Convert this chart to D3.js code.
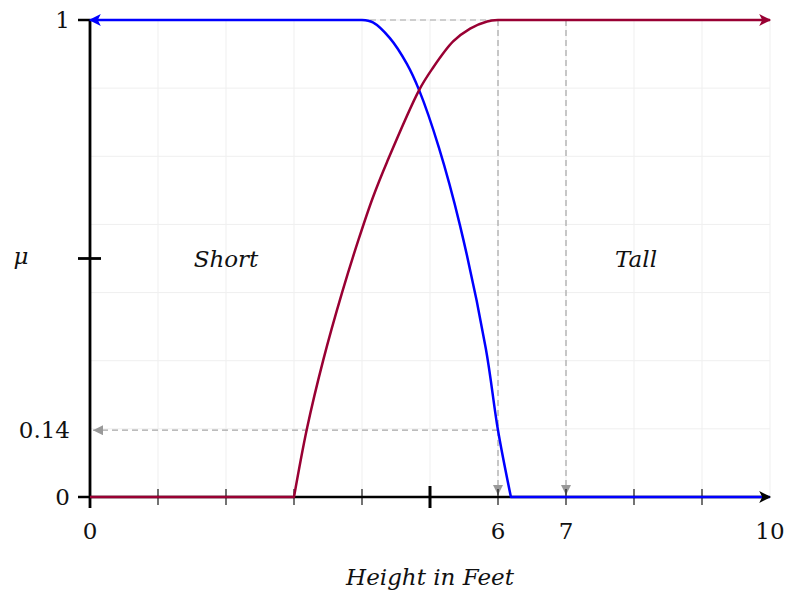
<!DOCTYPE html>
<html><head><meta charset="utf-8">
<script src="https://cdn.jsdelivr.net/npm/d3@7"></script>
<style>html,body{margin:0;padding:0;background:#fff;}svg{display:block;}
text{font-family:"DejaVu Serif",serif;fill:#111;}</style>
</head><body>
<script>
// Data
const shortFlatLeft = [[0,1],[4,1]];
const shortDrop = [[4,1],[4.16,0.995],[4.41,0.962],[4.66,0.908],[4.84,0.853],[5.13,0.733],[5.44,0.57],[5.82,0.312],[6,0.14],[6.19,0]];
const shortFlatRight = [[6.19,0],[10,0]];
const tallFlatLeft = [[0,0],[3,0]];
const tallRise = [[3,0],[3.19,0.143],[3.43,0.287],[3.71,0.43],[3.95,0.54],[4.16,0.628],[4.37,0.703],[4.84,0.853],[5.03,0.897],[5.34,0.955],[5.59,0.982],[5.84,0.997],[6,1]];
const tallFlatRight = [[6,1],[10,1]];
const xTickLabels = [0,6,7,10];
const yTickLabels = [0,0.14,1];
const minorXTicks = [1,2,3,4,6,7,8,9];
const majorXTicks = [5];
const curveLabels = [{text:"Short",x:2,y:0.5},{text:"Tall",x:8.03,y:0.5}];
const markerLevel = 0.14;
const markerXs = [6,7];

const W=787,H=593;
const x=d3.scaleLinear([0,10],[90,770]);
const y=d3.scaleLinear([0,1],[497,20]);
const svg=d3.select("body").append("svg").attr("width",W).attr("height",H);
svg.append("rect").attr("width",W).attr("height",H).attr("fill","#fff");

const defs=svg.append("defs");
function marker(id,color){
  defs.append("marker").attr("id",id).attr("viewBox","0 0 10 10").attr("refX",9).attr("refY",5)
   .attr("markerUnits","userSpaceOnUse").attr("markerWidth",14).attr("markerHeight",12).attr("orient","auto-start-reverse")
   .append("path").attr("d","M0,0 L10,5 L0,10 L2.5,5 Z").attr("fill",color);
}
marker("arB","#0000ff");marker("arR","#990033");marker("arK","#000");
defs.append("marker").attr("id","arG").attr("viewBox","0 0 10 10").attr("refX",10).attr("refY",5)
   .attr("markerUnits","userSpaceOnUse").attr("markerWidth",10).attr("markerHeight",10).attr("orient","auto")
   .append("path").attr("d","M0,0 L10,5 L0,10 Z").attr("fill","#999");

// grid
const g=svg.append("g");
const gx=d3.range(0,11);
const gy=d3.range(0,8).map(k=>k/7);
g.selectAll(".gv").data(gx).join("line").attr("x1",d=>x(d)).attr("x2",d=>x(d)).attr("y1",y(0)).attr("y2",y(1)).attr("stroke","#efefef").attr("stroke-width",1);
g.selectAll(".gh").data(gy).join("line").attr("y1",d=>y(d)).attr("y2",d=>y(d)).attr("x1",x(0)).attr("x2",x(10)).attr("stroke","#efefef").attr("stroke-width",1);

// dashed helper lines
const dash={"stroke":"#a6a6a6","stroke-width":1.2,"stroke-dasharray":"6,4","fill":"none"};
function dl(x1,y1,x2,y2,arrow){const l=svg.append("line").attr("x1",x1).attr("y1",y1).attr("x2",x2).attr("y2",y2);
 for(const k in dash) l.attr(k,dash[k]); if(arrow) l.attr("marker-end","url(#arG)");}
dl(x(0),y(1),x(6),y(1),false);
markerXs.forEach(v=>dl(x(v),y(1),x(v),y(0)-2,true));
dl(x(6),y(markerLevel),x(0)+3,y(markerLevel),true);

// axes
svg.append("line").attr("x1",x(0)).attr("x2",x(10)-2).attr("y1",y(0)).attr("y2",y(0)).attr("stroke","#000").attr("stroke-width",2.5);
svg.selectAll(".mt").data(minorXTicks).join("line").attr("x1",d=>x(d)).attr("x2",d=>x(d)).attr("y1",y(0)-8).attr("y2",y(0)+8).attr("stroke","#000").attr("stroke-width",1.1);
svg.selectAll(".Mt").data(majorXTicks).join("line").attr("x1",d=>x(d)).attr("x2",d=>x(d)).attr("y1",y(0)-11).attr("y2",y(0)+11).attr("stroke","#000").attr("stroke-width",3);
svg.append("line").attr("x1",x(0)).attr("x2",x(0)).attr("y1",y(1)).attr("y2",y(0)+11).attr("stroke","#000").attr("stroke-width",2.8);
[0,1].forEach(v=>svg.append("line").attr("x1",x(0)-12).attr("x2",x(0)).attr("y1",y(v)).attr("y2",y(v)).attr("stroke","#000").attr("stroke-width",2.5));
svg.append("line").attr("x1",x(0)-12).attr("x2",x(0)+11).attr("y1",y(0.5)).attr("y2",y(0.5)).attr("stroke","#000").attr("stroke-width",2.8);

// curves: flat parts straight, sloped parts smooth
const smooth=d3.line().x(d=>x(d[0])).y(d=>y(d[1])).curve(d3.curveCatmullRom.alpha(0.5));
const lin=d3.line().x(d=>x(d[0])).y(d=>y(d[1]));
function buildPath(flatA,mid,flatB){
  const a=lin(flatA); const m=smooth(mid).replace(/^M[^LC]*/,""); const b=lin(flatB).replace(/^M[^L]*/,"");
  return a+m+b;
}
svg.append("path").attr("d",buildPath(shortFlatLeft,shortDrop,shortFlatRight)).attr("fill","none").attr("stroke","#0000ff").attr("stroke-width",2.5).attr("stroke-linejoin","round").attr("marker-start","url(#arB)");
svg.append("path").attr("d",buildPath(tallFlatLeft,tallRise,tallFlatRight)).attr("fill","none").attr("stroke","#990033").attr("stroke-width",2.5).attr("stroke-linejoin","round").attr("marker-end","url(#arR)");
// x-axis arrow on top
svg.append("line").attr("x1",x(9.8)).attr("x2",x(10)).attr("y1",y(0)).attr("y2",y(0)).attr("stroke","none").attr("marker-end","url(#arK)");

// labels
const fs=23;
svg.selectAll(".xl").data(xTickLabels).join("text").attr("x",d=>x(d)).attr("y",y(0)+42).attr("text-anchor","middle").attr("font-size",fs).text(d=>d);
svg.selectAll(".yl").data(yTickLabels).join("text").attr("x",x(0)-20).attr("y",d=>y(d)+8).attr("text-anchor","end").attr("font-size",fs).text(d=>d);
svg.append("text").attr("x",21).attr("y",y(0.5)+5).attr("text-anchor","middle").attr("font-size",fs).attr("font-style","italic").text("μ");
svg.selectAll(".cl").data(curveLabels).join("text").attr("x",d=>x(d.x)).attr("y",d=>y(d.y)+8).attr("text-anchor","middle").attr("font-size",fs).attr("font-style","italic").text(d=>d.text);
svg.append("text").attr("x",x(5)).attr("y",585).attr("text-anchor","middle").attr("font-size",fs).attr("font-style","italic").text("Height in Feet");
</script>
</body></html>
